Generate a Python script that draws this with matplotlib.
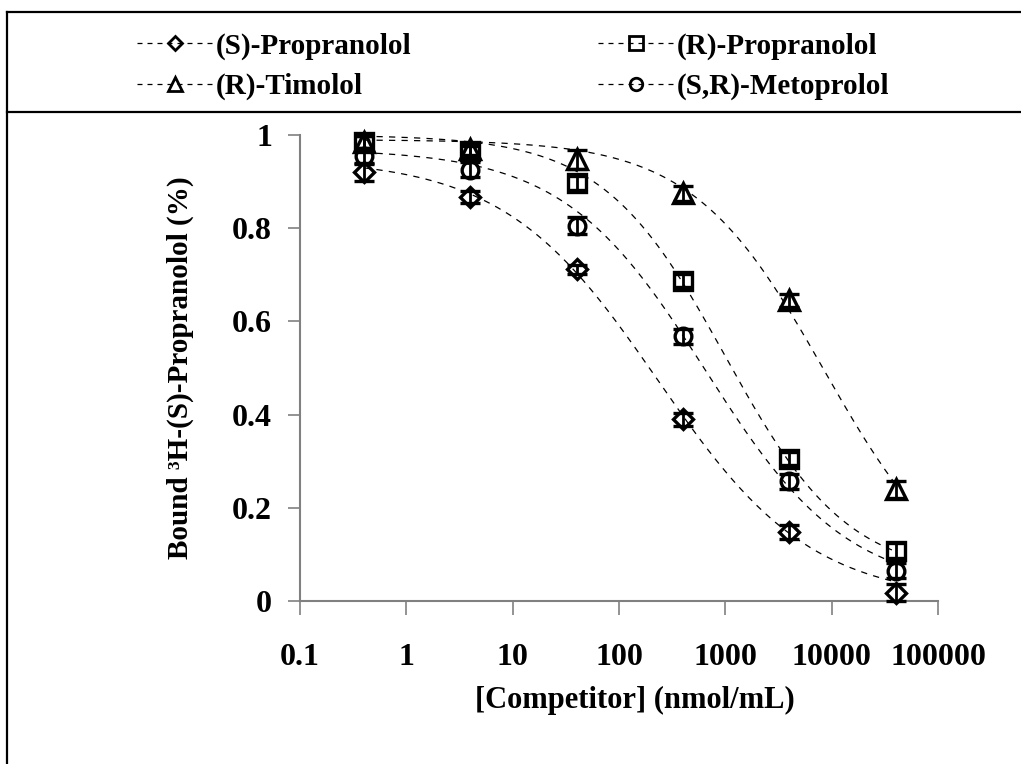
import numpy as np
import matplotlib.pyplot as plt
from matplotlib.lines import Line2D

plt.rcParams['font.family'] = ['Liberation Serif', 'DejaVu Serif']
plt.rcParams['font.weight'] = 'bold'

# concentrations of competitor (nmol/mL)
conc = [0.4, 4, 40, 400, 4000, 40000]

# fraction of bound 3H-(S)-propranolol
s_prop = [0.920, 0.867, 0.712, 0.390, 0.148, 0.018]
r_prop = [0.985, 0.965, 0.897, 0.687, 0.305, 0.108]
r_timo = [0.985, 0.970, 0.948, 0.875, 0.645, 0.240]
sr_meto = [0.955, 0.925, 0.805, 0.568, 0.257, 0.065]

s_prop_err = [0.018, 0.012, 0.010, 0.014, 0.016, 0.018]
r_prop_err = [0.012, 0.012, 0.016, 0.014, 0.014, 0.016]
r_timo_err = [0.012, 0.012, 0.020, 0.016, 0.014, 0.018]
sr_meto_err = [0.016, 0.016, 0.018, 0.016, 0.016, 0.016]

# fitted dose-response curves: top, bottom, IC50, hill slope
s_prop_fit = (0.95, 0.0, 230, 0.60)
r_prop_fit = (1.0, 0.05, 1000, 0.75)
r_timo_fit = (0.99, 0.0, 8500, 0.70)
sr_meto_fit = (0.97, 0.02, 650, 0.65)

tick_vals = [0.1, 1, 10, 100, 1000, 10000, 100000]
tick_labels = ['0.1', '1', '10', '100', '1000', '10000', '100000']

series = [
    ('(S)-Propranolol', s_prop, s_prop_err, s_prop_fit, 'D', 10),
    ('(R)-Timolol', r_timo, r_timo_err, r_timo_fit, '^', 14),
    ('(R)-Propranolol', r_prop, r_prop_err, r_prop_fit, 's', 13),
    ('(S,R)-Metoprolol', sr_meto, sr_meto_err, sr_meto_fit, 'o', 12),
]

W, H = 1021, 764
fig = plt.figure(figsize=(W / 100, H / 100), dpi=100)
ax = fig.add_axes([300 / W, 1 - 601 / H, 638 / W, 466 / H])

xs = np.logspace(np.log10(conc[0]), np.log10(conc[-1]), 200)
handles = []
for name, vals, err, fit, mk, ms in series:
    top, bot, ic50, hill = fit
    ax.plot(xs, bot + (top - bot) / (1 + (xs / ic50) ** hill),
            color='black', lw=0.9, dashes=(5, 5), zorder=1)
    ax.errorbar(conc, vals, yerr=err, fmt=mk, ms=ms, mfc='none', mec='black',
                mew=2.4, ecolor='black', elinewidth=2, capsize=7.5, capthick=2.8,
                clip_on=False, zorder=3)
    handles.append(Line2D([], [], color='black', lw=0.9, dashes=(4, 4),
                          marker=mk, ms=ms * 0.75, mfc='none', mec='black', mew=2))

ax.set_xscale('log')
ax.set_xlim(0.1, 100000)
ax.set_ylim(0, 1)
ax.set_xticks(tick_vals)
ax.set_xticklabels(tick_labels)
ax.minorticks_off()
ax.set_yticks([0, 0.2, 0.4, 0.6, 0.8, 1])
ax.set_yticklabels(['0', '0.2', '0.4', '0.6', '0.8', '1'])
ax.tick_params(axis='x', direction='out', length=10, width=1.2, color='#808080',
               labelsize=23, pad=20)
ax.tick_params(axis='y', direction='out', length=9, width=1.2, color='#808080',
               labelsize=23, pad=11)
for s in ['top', 'right']:
    ax.spines[s].set_visible(False)
for s in ['left', 'bottom']:
    ax.spines[s].set_color('#808080')
    ax.spines[s].set_linewidth(1.5)

fig.text(635 / W, 1 - 700 / H, '[Competitor] (nmol/mL)', fontsize=22,
         ha='center', va='center')
fig.text(180 / W, 1 - 368 / H, 'Bound ³H-(S)-Propranolol (%)', fontsize=21,
         ha='center', va='center', rotation=90)

# frame of the chart area and the legend box
fig.add_artist(Line2D([7 / W, 7 / W], [0, 1 - 12 / H], color='black', lw=1.6))
fig.add_artist(Line2D([7 / W, 1], [1 - 12 / H, 1 - 12 / H], color='black', lw=1.6))
fig.add_artist(Line2D([7 / W, 1], [1 - 112 / H, 1 - 112 / H], color='black', lw=1.6))

fig.legend(handles, [h[0] for h in series], ncol=2, loc='upper left',
           bbox_to_anchor=(122 / W, 1 - 18 / H), frameon=False, fontsize=21,
           handlelength=2.6, handletextpad=0.1, columnspacing=6.4,
           labelspacing=0.45, borderpad=0)

plt.savefig('out.png', dpi=100, facecolor='white')
